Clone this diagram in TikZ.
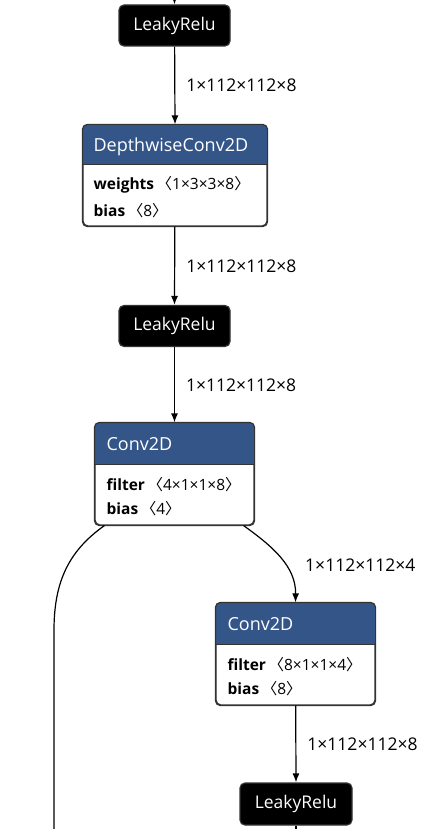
\documentclass[tikz,border=0pt]{standalone}
\usepackage{fontspec}
\setmainfont{Open Sans}
\newfontfamily\symf{Noto Sans CJK SC}
\usepackage{tikz}
\usetikzlibrary{arrows.meta, positioning}
\definecolor{azul}{RGB}{51, 85, 136}
\definecolor{borde}{RGB}{51, 51, 51}
\newcommand{\prm}[2]{\textbf{#1}\,{\symf 〈}#2{\symf 〉}}
\tikzset{
    opbox/.style={draw=borde, fill=white, rounded corners=5, line width=1.2pt, inner sep=0pt},
    act/.style={draw=borde, fill=black, text=white, rounded corners=5, line width=1.2pt, minimum width=111, minimum height=41, font=\fontsize{17.5}{20}\selectfont},
    hdr/.style={text=white, anchor=west, inner sep=0pt, font=\fontsize{18}{21}\selectfont},
    attr/.style={anchor=west, inner sep=0pt, font=\fontsize{15.5}{18}\selectfont},
    conn/.style={-{Latex[length=9pt, width=7pt]}, line width=1.2pt},
    lbl/.style={anchor=west, inner sep=0pt, xshift=11, font=\fontsize{17.5}{20}\selectfont},
}

\begin{document}
\begin{tikzpicture}[x=1pt, y=-1pt]
    \useasboundingbox (0,0) rectangle (434,829);

    \node[act] (lr1) at (174.5,25.5) {LeakyRelu};
    \node[opbox, minimum width=184, minimum height=101] (dw) at (175,175.5) {};
    \node[act] (lr2) at (174.5,326) {LeakyRelu};
    \node[opbox, minimum width=159, minimum height=102] (cv1) at (174.5,474) {};
    \node[opbox, minimum width=159, minimum height=102] (cv2) at (295.5,654) {};
    \node[act, minimum width=112, minimum height=42] (lr3) at (296,804) {LeakyRelu};

    % headers
    \foreach \b/\h in {dw/40, cv1/42, cv2/42}{
        \fill[azul] ([yshift=-\h]\b.north west) {[rounded corners=5] -- (\b.north west) -- (\b.north east)} -- ([yshift=-\h]\b.north east) -- cycle;
        \draw[borde, line width=0.8pt] ([yshift=-\h]\b.north west) -- ([yshift=-\h]\b.north east);
        \draw[borde, line width=1.2pt, rounded corners=5] (\b.north west) rectangle (\b.south east);
    }

    \node[hdr] (dwT) at ([xshift=11, yshift=-22]dw.north west) {DepthwiseConv2D};
    \node[attr] (dwA) at ([xshift=11, yshift=-60]dw.north west) {\prm{weights}{1×3×3×8}};
    \node[attr] (dwB) at ([xshift=11, yshift=-86]dw.north west) {\prm{bias}{8}};

    \node[hdr] (cv1T) at ([xshift=12, yshift=-22]cv1.north west) {Conv2D};
    \node[attr] (cv1A) at ([xshift=12, yshift=-62]cv1.north west) {\prm{filter}{4×1×1×8}};
    \node[attr] (cv1B) at ([xshift=12, yshift=-86]cv1.north west) {\prm{bias}{4}};

    \node[hdr] (cv2T) at ([xshift=12, yshift=-22]cv2.north west) {Conv2D};
    \node[attr] (cv2A) at ([xshift=12, yshift=-62]cv2.north west) {\prm{filter}{8×1×1×4}};
    \node[attr] (cv2B) at ([xshift=12, yshift=-86]cv2.north west) {\prm{bias}{8}};

    % loose ends
    \coordinate (in0) at (174.5,-12);
    \coordinate (out1) at (54,845);
    \coordinate (out2) at (296,845);

    \draw[conn] (in0) -- (lr1.north);
    \draw[conn] (lr1) -- node[lbl] (e1) {1×112×112×8} (dw.north);
    \draw[conn] (dw) -- node[lbl] (e2) {1×112×112×8} (lr2.north);
    \draw[conn] (lr2) -- node[lbl] (e3) {1×112×112×8} (cv1.north);
    \draw[conn] ([xshift=-11]cv1.south east) .. controls (272,546) and (296,566) .. node[lbl, pos=0.6, xshift=8] (e4) {1×112×112×4} (cv2.north);
    \draw[conn] (cv2) -- node[lbl] (e5) {1×112×112×8} (lr3.north);
    \draw[line width=1.2pt] ([xshift=10]cv1.south west) .. controls (70,550) and (54,580) .. (54,630) -- (out1);
    \draw[line width=1.2pt] (lr3) -- (out2);
\end{tikzpicture}
\end{document}
